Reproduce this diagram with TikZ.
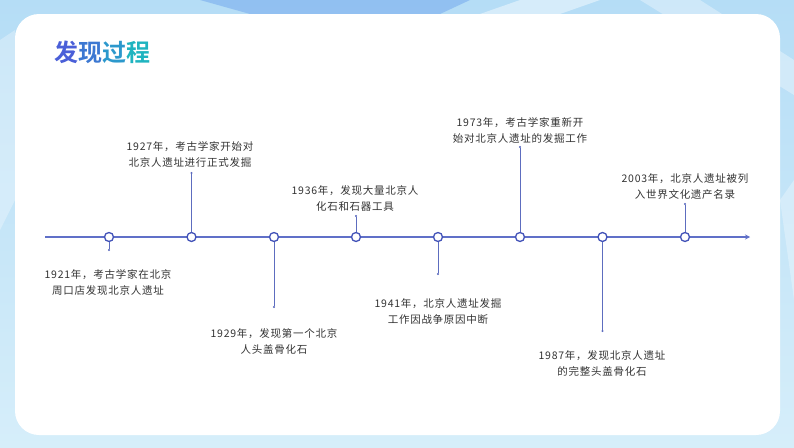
\documentclass[tikz,border=0pt]{standalone}
\usepackage{fontspec}
\setmainfont{Noto Sans CJK SC}
\newfontfamily\cjk[LetterSpace=7]{Noto Sans CJK SC}
\newfontfamily\cjkb[BoldFont={Noto Sans CJK SC Bold}]{Noto Sans CJK SC}
\usetikzlibrary{arrows.meta}
\definecolor{bgA}{HTML}{B5DDF6}
\definecolor{bgB}{HTML}{D6EEFA}
\definecolor{bgC}{HTML}{7AAEEE}
\definecolor{lineblue}{HTML}{6070C8}
\definecolor{ringblue}{HTML}{4252B8}
\definecolor{stemblue}{HTML}{5D6DBF}
\definecolor{txt}{HTML}{333333}
\definecolor{tA}{HTML}{4A5FD8}
\definecolor{tB}{HTML}{3C78D2}
\definecolor{tC}{HTML}{2C98CC}
\definecolor{tD}{HTML}{1FB4C0}
\tikzset{
  dotnode/.style={circle,draw=ringblue,fill=white,line width=1.3pt,minimum size=9pt,inner sep=0pt},
  stemline/.style={draw=stemblue,line width=0.9pt,-{Circle[length=2pt]}},
  evtext/.style={font=\cjk\fontsize{10.5}{16}\selectfont,text=txt,align=center,inner sep=0pt},
}
\begin{document}
\begin{tikzpicture}[x=1pt,y=-1pt]
\useasboundingbox (0,0) rectangle (794,447);
% background
\shade[top color=bgA,bottom color=bgB] (0,0) rectangle (794,447);
\fill[bgC,opacity=0.6] (200,0) -- (470,0) -- (440,14) -- (250,14) -- cycle;
\fill[white,opacity=0.45] (520,0) -- (600,0) -- (560,14) -- (480,14) -- cycle;
\fill[white,opacity=0.35] (640,0) -- (700,0) -- (794,60) -- (794,95) -- cycle;
\fill[white,opacity=0.3] (780,200) -- (794,180) -- (794,300) -- cycle;
\fill[white,opacity=0.3] (0,40) -- (15,30) -- (15,200) -- (0,230) -- cycle;
% card
\fill[white,rounded corners=24pt] (15,14) rectangle (780,435);
% title
\node[anchor=west,inner sep=0pt,font=\cjkb\bfseries\fontsize{24}{27}\selectfont] (title) at (54,52)
  {\textcolor{tA}{发}\textcolor{tB}{现}\textcolor{tC}{过}\textcolor{tD}{程}};
% timeline
\coordinate (start) at (45,237);
\coordinate (tip) at (750,237);
\draw[lineblue,line width=1.7pt,-{Stealth[length=5pt,width=5pt]}] (start) -- (tip);
\foreach \i/\x in {1/109,2/191.5,3/274,4/356,5/438,6/520,7/602.5,8/685}{
  \node[dotnode] (c\i) at (\x,237) {};
}
% stem ends
\coordinate (e1) at (109,251);
\coordinate (e2) at (191.5,172);
\coordinate (e3) at (274,308);
\coordinate (e4) at (356,215);
\coordinate (e5) at (438,275);
\coordinate (e6) at (520,146);
\coordinate (e7) at (602.5,332);
\coordinate (e8) at (685,203);
\foreach \i in {1,...,8}{ \draw[stemline] (c\i) -- (e\i); }
% texts
\node[evtext] (t1) at (108,282.5) {1921年，考古学家在北京\\周口店发现北京人遗址};
\node[evtext] (t2) at (190,154.5) {1927年，考古学家开始对\\北京人遗址进行正式发掘};
\node[evtext] (t3) at (274,341) {1929年，发现第一个北京\\人头盖骨化石};
\node[evtext] (t4) at (355,198.5) {1936年，发现大量北京人\\化石和石器工具};
\node[evtext] (t5) at (438,311) {1941年，北京人遗址发掘\\工作因战争原因中断};
\node[evtext] (t6) at (520,130) {1973年，考古学家重新开\\始对北京人遗址的发掘工作};
\node[evtext] (t7) at (602,363.5) {1987年，发现北京人遗址\\的完整头盖骨化石};
\node[evtext] (t8) at (685,187) {2003年，北京人遗址被列\\入世界文化遗产名录};
\end{tikzpicture}
\end{document}
